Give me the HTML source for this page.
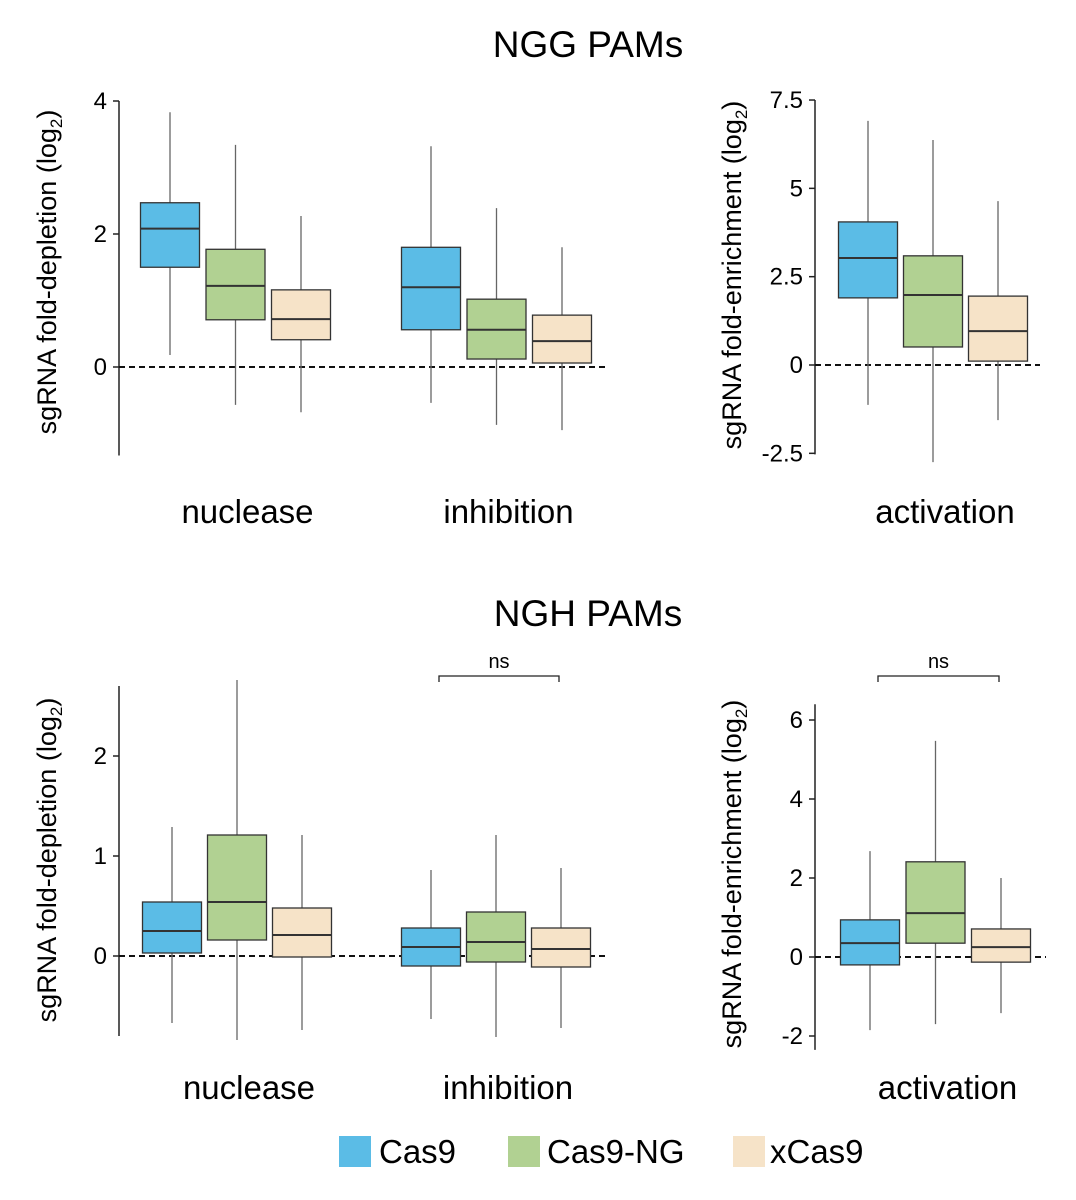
<!DOCTYPE html>
<html><head><meta charset="utf-8">
<style>
html,body{margin:0;padding:0;background:#fff;}
svg{display:block;font-family:"Liberation Sans",Arial,sans-serif;}
</style></head>
<body>
<svg id="chart" width="1076" height="1200" viewBox="0 0 1076 1200" xmlns="http://www.w3.org/2000/svg">
<text x="588" y="57" font-size="37" text-anchor="middle">NGG PAMs</text>
<text x="588" y="626" font-size="37" text-anchor="middle">NGH PAMs</text>
<g>
<rect x="339" y="1136" width="32" height="31" fill="#5bbce6"/>
<text x="379" y="1163" font-size="33">Cas9</text>
<rect x="508" y="1136" width="32" height="31" fill="#b1d192"/>
<text x="547" y="1163" font-size="33">Cas9-NG</text>
<rect x="733" y="1136" width="32" height="31" fill="#f6e3c8"/>
<text x="770" y="1163" font-size="33">xCas9</text>
</g>
</svg>
<script>
const colors=["#5bbce6","#b1d192","#f6e3c8"];
const seriesNames=["cas9","cas9-ng","xcas9"];
// [whiskerLow, Q1, median, Q3, whiskerHigh]
const nggNuclease=[[0.18,1.50,2.08,2.47,3.83],[-0.57,0.71,1.22,1.77,3.34],[-0.68,0.41,0.72,1.16,2.27]];
const nggInhibition=[[-0.54,0.56,1.20,1.80,3.32],[-0.87,0.12,0.56,1.02,2.39],[-0.95,0.06,0.39,0.78,1.80]];
const nggActivation=[[-1.13,1.90,3.03,4.05,6.91],[-2.75,0.51,1.98,3.09,6.37],[-1.56,0.11,0.96,1.95,4.64]];
const nghNuclease=[[-0.67,0.03,0.25,0.54,1.29],[-0.84,0.16,0.54,1.21,2.76],[-0.74,-0.01,0.21,0.48,1.21]];
const nghInhibition=[[-0.63,-0.10,0.09,0.28,0.86],[-0.81,-0.06,0.14,0.44,1.21],[-0.72,-0.11,0.07,0.28,0.88]];
const nghActivation=[[-1.85,-0.20,0.35,0.94,2.68],[-1.70,0.35,1.11,2.41,5.47],[-1.42,-0.13,0.25,0.71,2.00]];
const ticksA=[0,2,4]; const tickLabelsA=["0","2","4"];
const ticksB=[-2.5,0,2.5,5,7.5]; const tickLabelsB=["-2.5","0","2.5","5","7.5"];
const ticksC=[0,1,2]; const tickLabelsC=["0","1","2"];
const ticksD=[-2,0,2,4,6]; const tickLabelsD=["-2","0","2","4","6"];
const groupLabels=["nuclease","inhibition","activation"];

const svg=document.getElementById('chart');
const NS="http://www.w3.org/2000/svg";
function mk(tag,attrs,parent){const e=document.createElementNS(NS,tag);for(const k in attrs)e.setAttribute(k,attrs[k]);(parent||svg).appendChild(e);return e;}

function panel(cfg){
  const y=v=>cfg.y0-(v)*cfg.unit;
  const g=mk('g',{});
  
  
  const ax=mk('line',{x1:cfg.ax,x2:cfg.ax,y1:y(cfg.top),y2:y(cfg.bot),stroke:'#222','stroke-width':1.5},g);
  
  
  cfg.ticks.forEach((t,i)=>{
    const tl=mk('line',{x1:cfg.ax-6,x2:cfg.ax,y1:y(t),y2:y(t),stroke:'#222','stroke-width':1.5},g);
    
    
    const tx=mk('text',{x:cfg.ax-12,y:y(t)+8,'font-size':24,'text-anchor':'end'},g);
    
    
    tx.textContent=cfg.tickLabels[i];
  });
  const zl=mk('line',{x1:cfg.ax,x2:cfg.dashEnd,y1:y(0),y2:y(0),stroke:'#111','stroke-width':2,'stroke-dasharray':'6,4'},g);
  
  
  const yt=mk('text',{x:0,y:0,'font-size':27,'text-anchor':'middle',transform:`translate(${cfg.titleX},${cfg.titleY}) rotate(-90)`},g);
  
  
  yt.innerHTML=cfg.title+' (log<tspan font-size="17" dy="6">2</tspan><tspan dy="-6">)</tspan>';
  cfg.groups.forEach((grp,gi)=>{
    grp.data.forEach((d,si)=>{
      const cx=grp.x+si*cfg.step, w=59;
      const wl=mk('line',{x1:cx,x2:cx,y1:y(d[0]),y2:y(d[4]),stroke:'#666','stroke-width':1.3},g);
      
      
      const b=mk('rect',{x:cx-w/2,y:y(d[3]),width:w,height:y(d[1])-y(d[3]),fill:colors[si],stroke:'#333','stroke-width':1.3},g);
      
      
      const m=mk('line',{x1:cx-w/2,x2:cx+w/2,y1:y(d[2]),y2:y(d[2]),stroke:'#333','stroke-width':2},g);
      
      
    });
    const gl=mk('text',{x:grp.x+cfg.step+12,y:cfg.labelY,'font-size':33,'text-anchor':'middle'},g);
    
    
    gl.textContent=grp.label;
    if(grp.ns){
      const x1=grp.x+8,x2=grp.x+2*cfg.step-2;
      const br=mk('path',{d:`M${x1},682 V676 H${x2} V682`,fill:'none',stroke:'#222','stroke-width':1.3},g);
      
      
      const nt=mk('text',{x:(x1+x2)/2,y:668,'font-size':20,'text-anchor':'middle'},g);
      
      
      nt.textContent='ns';
    }
  });
}
panel({name:'ngg-depletion-panel',ax:119,y0:367,unit:66.5,top:4,bot:-1.33,ticks:ticksA,tickLabels:tickLabelsA,dashEnd:608,
  title:'sgRNA fold-depletion',titleX:56,titleY:272,step:65.5,labelY:523,
  groups:[{x:170,data:nggNuclease,label:groupLabels[0]},{x:431,data:nggInhibition,label:groupLabels[1]}]});
panel({name:'ngg-enrichment-panel',ax:815,y0:365,unit:35.33,top:7.5,bot:-2.53,ticks:ticksB,tickLabels:tickLabelsB,dashEnd:1040,
  title:'sgRNA fold-enrichment',titleX:741,titleY:275,step:65,labelY:523,
  groups:[{x:868,data:nggActivation,label:groupLabels[2]}]});
panel({name:'ngh-depletion-panel',ax:119,y0:956,unit:100,top:2.7,bot:-0.8,ticks:ticksC,tickLabels:tickLabelsC,dashEnd:608,
  title:'sgRNA fold-depletion',titleX:56,titleY:860,step:65,labelY:1099,
  groups:[{x:172,data:nghNuclease,label:groupLabels[0]},{x:431,data:nghInhibition,label:groupLabels[1],ns:true}]});
panel({name:'ngh-enrichment-panel',ax:815,y0:957,unit:39.5,top:6.4,bot:-2.35,ticks:ticksD,tickLabels:tickLabelsD,dashEnd:1046,
  title:'sgRNA fold-enrichment',titleX:741,titleY:874,step:65.5,labelY:1099,
  groups:[{x:870,data:nghActivation,label:groupLabels[2],ns:true}]});
</script>
</body></html>
